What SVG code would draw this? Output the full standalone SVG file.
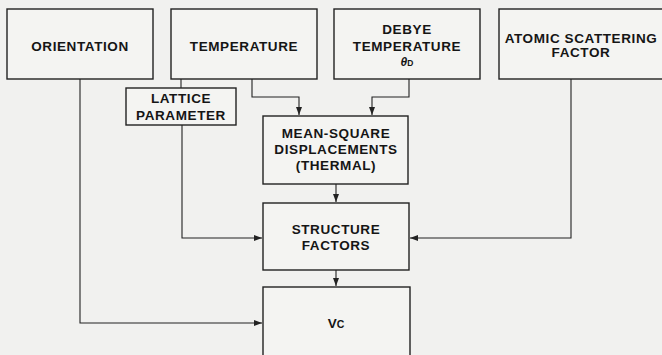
<svg xmlns="http://www.w3.org/2000/svg" width="662" height="355" viewBox="0 0 662 355">
<defs>
<style>
.box{fill:#f4f4f2;stroke:#222;stroke-width:1.4}
.t{font-family:"Liberation Sans",Arial,Helvetica,sans-serif;font-weight:bold;font-size:13.5px;letter-spacing:0.6px;fill:#151515;text-anchor:middle}
.c{fill:none;stroke:#222;stroke-width:1.1}
</style>
<marker id="ah" viewBox="0 0 8 6" refX="8" refY="3" markerWidth="8" markerHeight="6" markerUnits="userSpaceOnUse" orient="auto">
<path d="M0,0 L8,3 L0,6 Z" fill="#222"/>
</marker>
</defs>
<rect width="662" height="355" fill="#f1f1ef"/>
<g id="connectors">
<path class="c" d="M80,79 V323 H262" marker-end="url(#ah)"/>
<path class="c" d="M181,79 V88"/>
<path class="c" d="M252,79 V97 H299 V115" marker-end="url(#ah)"/>
<path class="c" d="M409,79 V97 H372 V115" marker-end="url(#ah)"/>
<path class="c" d="M571,79 V238 H410" marker-end="url(#ah)"/>
<path class="c" d="M182,125 V238 H262" marker-end="url(#ah)"/>
<path class="c" d="M336,184 V202" marker-end="url(#ah)"/>
<path class="c" d="M336,270 V286" marker-end="url(#ah)"/>
</g>
<g id="orientation">
<rect class="box" x="7" y="9" width="146" height="70"/>
<text class="t" x="80" y="51">ORIENTATION</text>
</g>
<g id="temperature">
<rect class="box" x="171" y="9" width="146" height="70"/>
<text class="t" x="244" y="51">TEMPERATURE</text>
</g>
<g id="debye">
<rect class="box" x="334" y="9" width="146" height="70"/>
<text class="t" x="407" y="34">DEBYE</text>
<text class="t" x="407" y="51">TEMPERATURE</text>
<text class="t" x="407" y="66" style="letter-spacing:0"><tspan font-style="italic" font-size="12">θ</tspan><tspan font-size="8.5">D</tspan></text>
</g>
<g id="atomic">
<rect class="box" x="499" y="9" width="170" height="70"/>
<text class="t" x="581" y="43">ATOMIC SCATTERING</text>
<text class="t" x="581" y="57">FACTOR</text>
</g>
<g id="lattice">
<rect class="box" x="126" y="88" width="110" height="37"/>
<text class="t" x="181" y="103">LATTICE</text>
<text class="t" x="181" y="120">PARAMETER</text>
</g>
<g id="msd">
<rect class="box" x="263" y="116" width="145" height="68"/>
<text class="t" x="336" y="138">MEAN-SQUARE</text>
<text class="t" x="336" y="154">DISPLACEMENTS</text>
<text class="t" x="336" y="170">(THERMAL)</text>
</g>
<g id="sf">
<rect class="box" x="263" y="203" width="146" height="67"/>
<text class="t" x="336" y="234">STRUCTURE</text>
<text class="t" x="336" y="250">FACTORS</text>
</g>
<g id="vc">
<rect class="box" x="263" y="287" width="147" height="80"/>
<text class="t" x="336" y="328" style="letter-spacing:0">V<tspan font-size="10.5">C</tspan></text>
</g>
</svg>
